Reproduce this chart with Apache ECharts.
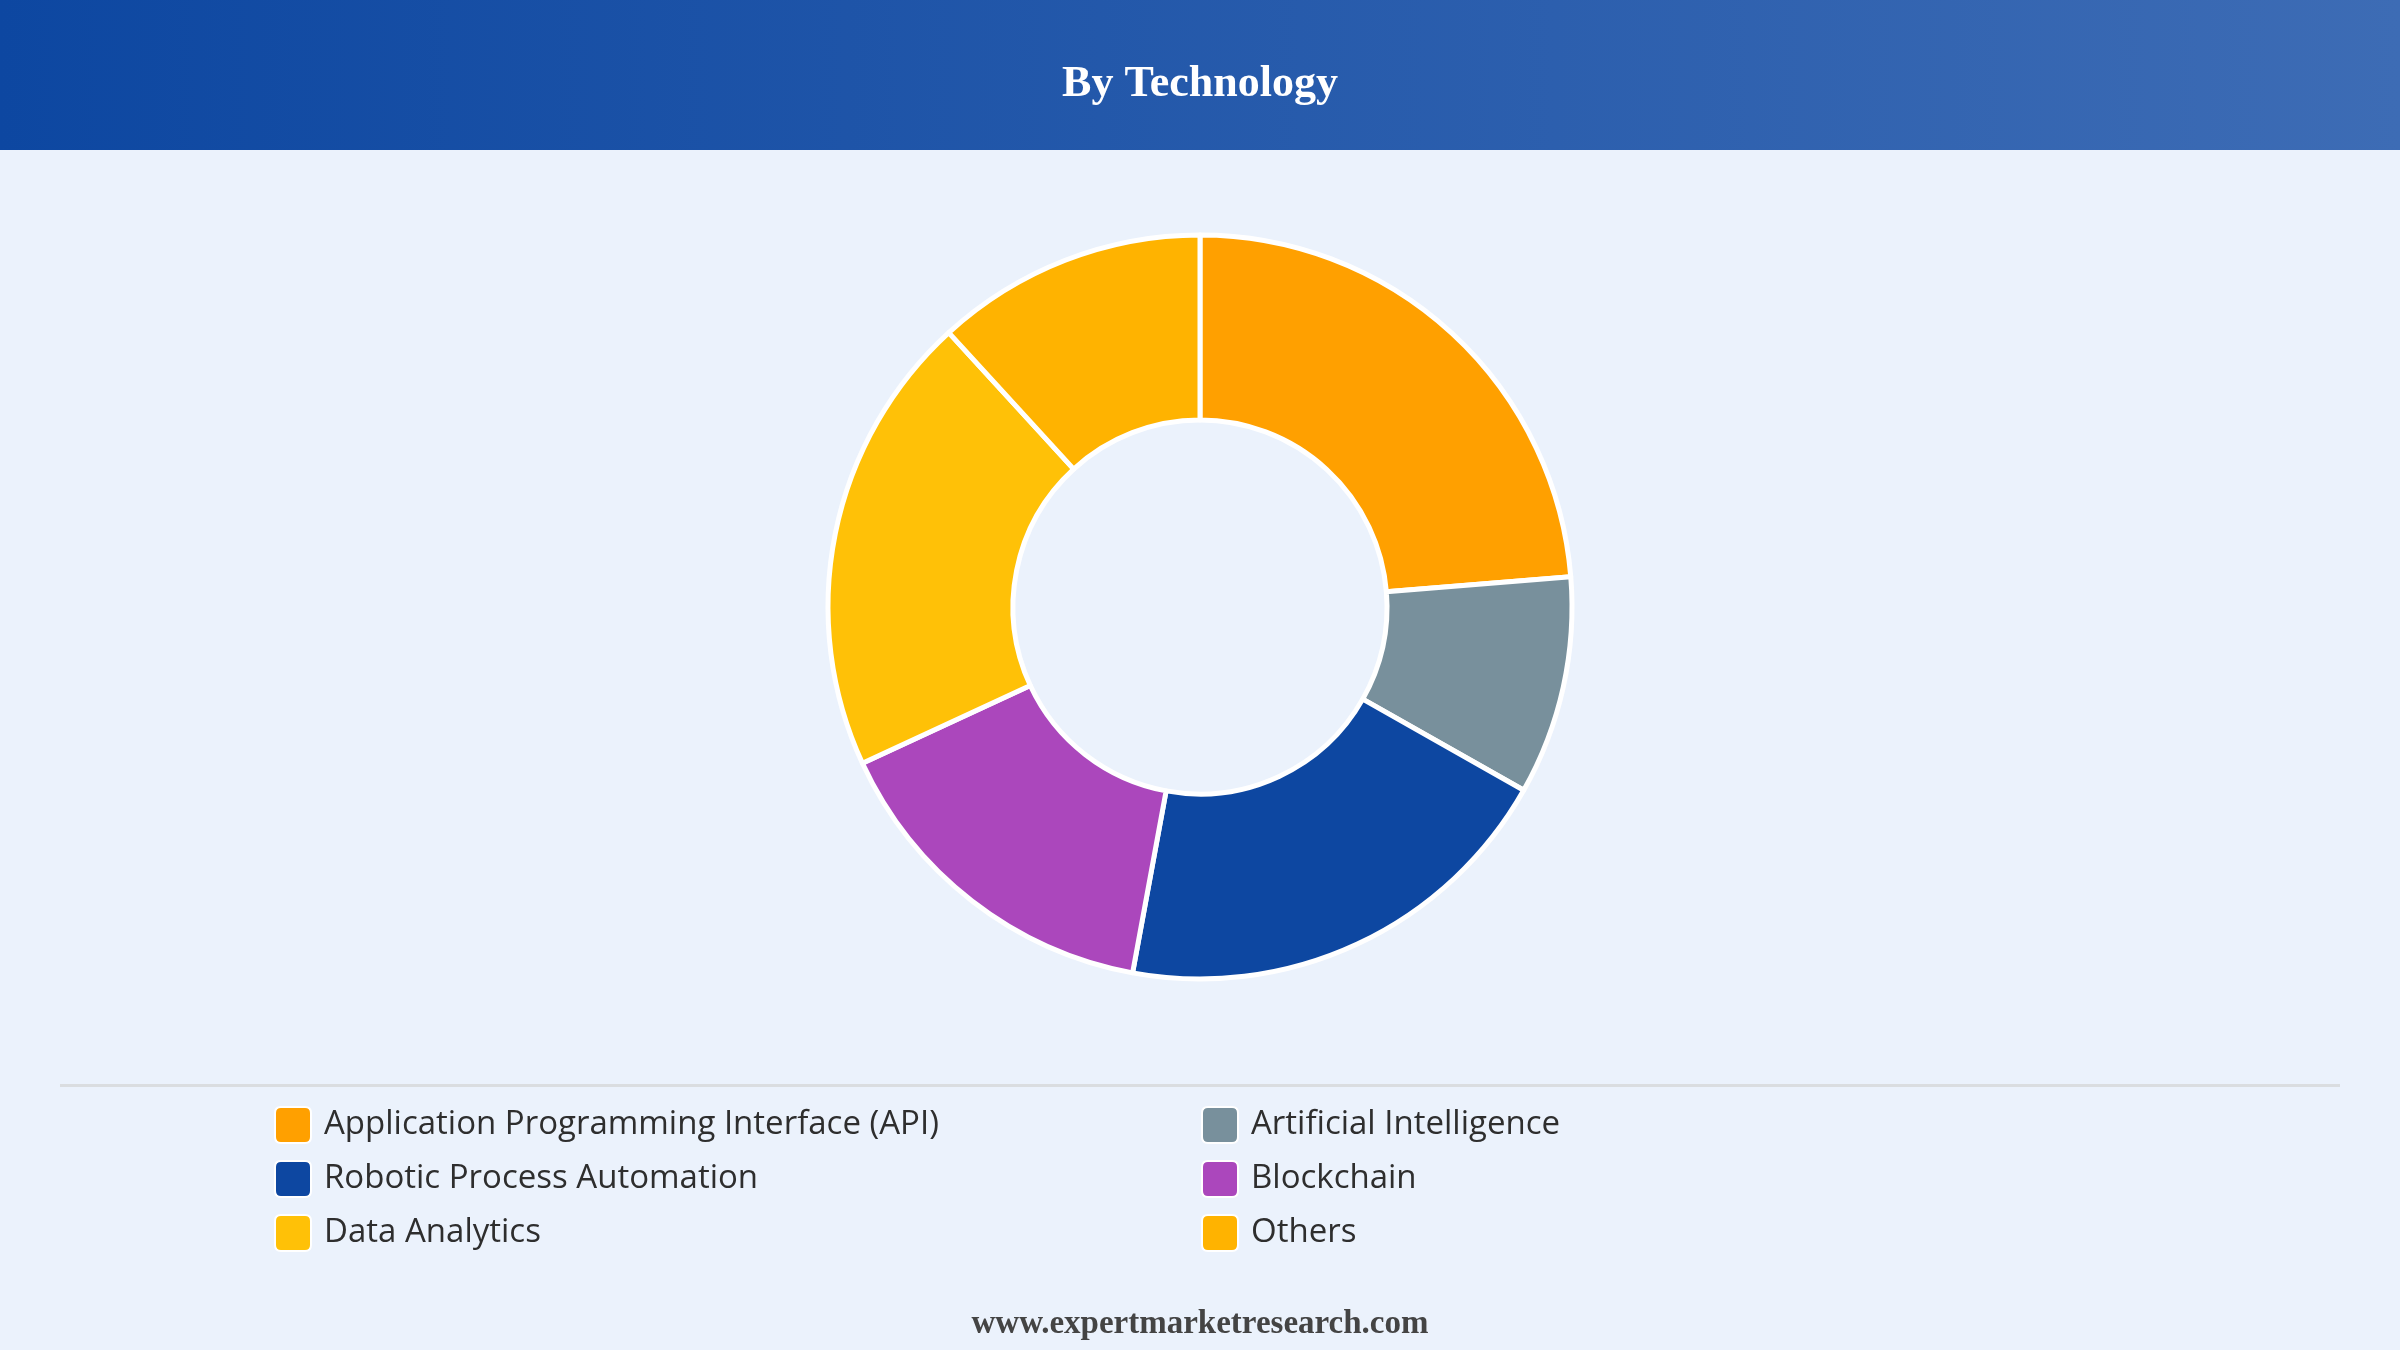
<!DOCTYPE html>
<html>
<head>
<meta charset="utf-8">
<script src="https://cdn.jsdelivr.net/npm/echarts@6/dist/echarts.min.js"></script>
<style>
  html, body { margin: 0; padding: 0; background: #ebf2fc; }
  #chart { width: 2400px; height: 1350px; }
</style>
</head>
<body>
<div id="chart"></div>
<script>
const categories = [
  "Application Programming Interface (API)",
  "Artificial Intelligence",
  "Robotic Process Automation",
  "Blockchain",
  "Data Analytics",
  "Others"
];
const shares = [23.7, 9.5, 19.7, 15.2, 20.1, 11.8];
const colors = ["#ffa000", "#78909c", "#0d47a1", "#ab47bc", "#ffc107", "#ffb300"];

// legend columns, as laid out in the reference
const legendLeft = [categories[0], categories[2], categories[4]];
const legendRight = [categories[1], categories[3], categories[5]];

const chart = echarts.init(document.getElementById("chart"));

const legendBase = {
  orient: "vertical",
  top: 1106,
  padding: 0,
  itemWidth: 36,
  itemHeight: 36,
  itemGap: 16,
  icon: "path://M6,0 H30 Q36,0 36,6 V30 Q36,36 30,36 H6 Q0,36 0,30 V6 Q0,0 6,0 Z",
  textStyle: {
    fontFamily: "'Segoe UI', 'Open Sans', sans-serif",
    fontSize: 33,
    lineHeight: 36,
    color: "#2e2e2e",
    padding: [0, 0, 0, 8]
  },
  selectedMode: false
};

const option = {
  backgroundColor: "#ebf2fc",
  color: colors,
  graphic: [
    {
      type: "rect",
      left: 0,
      top: 0,
      shape: { width: 2400, height: 150 },
      style: {
        fill: new echarts.graphic.LinearGradient(0, 0, 1, 0, [
          { offset: 0, color: "#0d47a1" },
          { offset: 1, color: "#3d6cb5" }
        ])
      },
      z: 0
    },
    {
      type: "text",
      left: "center",
      top: 63,
      style: {
        text: "By Technology",
        fill: "#fff",
        font: "bold 44px 'Liberation Serif', 'Times New Roman', serif"
      },
      z: 1
    },
    {
      type: "rect",
      left: 60,
      top: 1084,
      shape: { width: 2280, height: 3 },
      style: { fill: "#dadde0" }
    },
    {
      type: "text",
      left: "center",
      top: 1308,
      style: {
        text: "www.expertmarketresearch.com",
        fill: "#444",
        font: "bold 33px 'Liberation Serif', 'Times New Roman', serif"
      }
    }
  ],
  legend: [
    Object.assign({}, legendBase, { left: 274, data: legendLeft }),
    Object.assign({}, legendBase, { left: 1201, data: legendRight })
  ],
  series: [
    {
      name: "By Technology",
      type: "pie",
      center: [1200, 607],
      radius: [187, 372],
      startAngle: 90,
      clockwise: true,
      label: { show: false },
      labelLine: { show: false },
      emphasis: { disabled: true },
      itemStyle: { borderColor: "#fff", borderWidth: 5 },
      data: categories.map((name, i) => ({ name: name, value: shares[i] }))
    }
  ]
};

option && chart.setOption(option);
</script>
</body>
</html>
